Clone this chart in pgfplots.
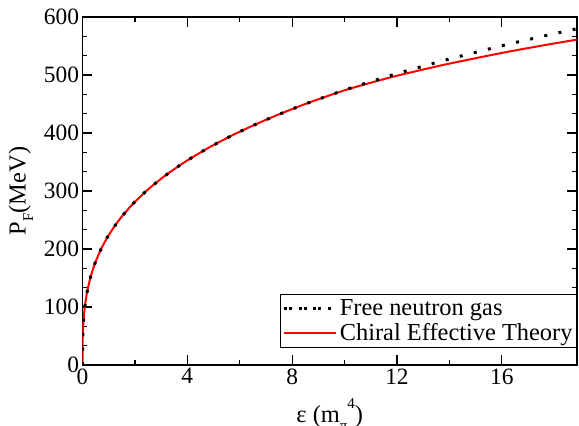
\documentclass[border=0pt]{standalone}
\usepackage{pgfplots}
\pgfplotsset{compat=1.18}
\usepackage{fontspec}
\setmainfont{Liberation Serif}

\pgfplotstableread{
eps pF
0 0
0.0000875 10
0.0007 20
0.00236 30
0.0056 40
0.01094 50
0.0189 60
0.0369 75
0.0878 100
0.1718 125
0.2976 150
0.4738 175
0.7095 200
1.0139 225
1.3959 250
1.8657 275
2.4334 300
3.1092 325
3.9039 350
4.8285 375
5.8947 400
7.1143 425
8.4996 450
10.0637 475
11.8197 500
13.7814 525
15.9628 550
17.3831 565
18.8912 580
19.414 585
}\freegas

\pgfplotstableread{
eps pF
0 0
0.0000875 10
0.0007 20
0.00236 30
0.0056 40
0.01094 50
0.0189 60
0.0369 75
0.0878 100
0.1718 125
0.2976 150
0.4738 175
0.7095 200
1.0139 225
1.3959 250
1.8657 275
2.4334 300
3.1092 325
3.9039 350
4.8285 375
5.8947 400
7.1143 425
8.4996 450
10.0637 474.5
11.8197 496.7
13.7814 517.5
15.9628 537.7
17.3831 549.5
18.8912 561.2
19.414 565
}\chiral

\pgfplotsset{
  lineleg/.style={legend image code/.code={\path (0bp,0bp) -- (52bp,0bp);\draw[##1] (0bp,0bp) -- (45bp,0bp);}},
  dotleg/.style={legend image code/.code={\path (0bp,0bp) -- (52bp,0bp);\draw[##1] (5bp,0bp) -- (40bp,0bp);}},
}

\begin{document}
\begin{tikzpicture}
\begin{axis}[
  name=ax,
  scale only axis, width=494.5bp, height=348bp,
  xmin=0, xmax=18.87, ymin=0, ymax=600,
  xtick={0,4,8,12,16}, ytick={0,100,...,600},
  minor x tick num=1, minor y tick num=2,
  tick align=inside,
  major tick length=10bp, minor tick length=5bp,
  every tick/.style={black, line width=1.2bp},
  axis line style={line width=1.6bp},
  tick label style={font=\fontsize{23.5}{26}\selectfont},
  /pgf/number format/assume math mode=true,
  xlabel={ε (m\raisebox{-0.35em}{\fontsize{15}{15}\selectfont π}\raisebox{0.55em}{\fontsize{15}{15}\selectfont 4})},
  ylabel={P\raisebox{-0.3em}{\fontsize{15}{15}\selectfont F}(MeV)},
  label style={font=\fontsize{24.5}{27}\selectfont},
  xlabel style={yshift=-8bp},
  ylabel style={yshift=4bp},
  reverse legend,
  legend cell align=left,
  legend style={at={(1,0.0489)}, anchor=south east, draw=black, line width=1bp,
    font=\fontsize{24.5}{27}\selectfont, inner xsep=2bp, inner ysep=3bp, row sep=3bp},
]
\addplot[red, line width=2bp, smooth, tension=0.4, lineleg] table[x=eps,y=pF] {\chiral};
\addlegendentry{Chiral Effective Theory}
\addplot[black, line width=3bp, dash pattern=on 3bp off 11.5bp, line cap=butt, smooth, tension=0.4,
  dotleg] table[x=eps,y=pF] {\freegas};
\addlegendentry{Free neutron gas}
\end{axis}
\pgfresetboundingbox
\path[use as bounding box] ([xshift=-82.5bp,yshift=-61bp]ax.south west) rectangle ([xshift=2bp,yshift=17bp]ax.north east);
\end{tikzpicture}
\end{document}
